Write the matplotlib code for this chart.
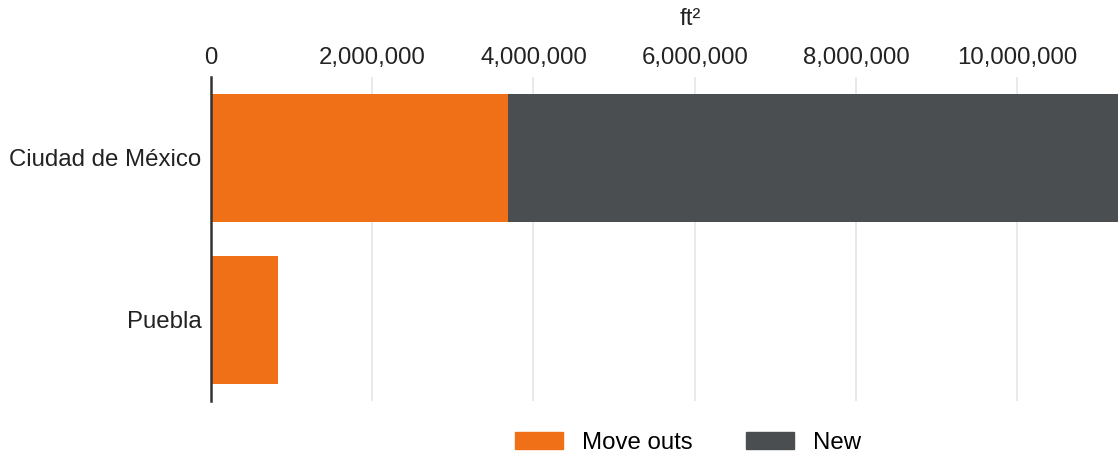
import matplotlib.pyplot as plt
from matplotlib.patches import Patch
from matplotlib.ticker import FuncFormatter

plt.rcParams['font.family'] = ['Liberation Sans', 'DejaVu Sans']

# data (ft²)
cities = ['Ciudad de México', 'Puebla']
move_outs = [3680000, 830000]
new = [7570000, 0]
x_ticks = [0, 2000000, 4000000, 6000000, 8000000, 10000000]

orange = '#f07018'
grey = '#4b4e51'
fs = 17.3

fig = plt.figure(figsize=(11.18, 4.55), dpi=100)
ax = fig.add_axes([211 / 1118, 54 / 455, 907 / 1118, 324 / 455])

pos = list(range(len(cities)))
ax.barh(pos, move_outs, height=0.79, color=orange, zorder=2)
ax.barh(pos, new, left=move_outs, height=0.79, color=grey, zorder=2)

ax.set_xlim(0, 11250000)
ax.set_ylim(1.5, -0.5)
ax.set_yticks(pos)
ax.set_yticklabels(cities)
ax.set_xticks(x_ticks)
ax.xaxis.set_major_formatter(FuncFormatter(lambda v, p: f'{int(v):,}'))
ax.xaxis.tick_top()
ax.tick_params(axis='x', length=0, pad=6, labelsize=fs, colors='#222222')
ax.tick_params(axis='y', length=0, pad=7, labelsize=fs, colors='#222222')
ax.grid(axis='x', color='#e4e4ec', linewidth=1.2, zorder=0)

for s in ['top', 'right', 'bottom']:
    ax.spines[s].set_visible(False)
ax.spines['left'].set_color('#333333')
ax.spines['left'].set_linewidth(1.8)
ax.spines['left'].set_zorder(3)

fig.text(690 / 1118, 1 - 19 / 455, 'ft²', ha='center', va='center',
         fontsize=fs, color='#222222')

handles = [Patch(color=orange, label='Move outs'), Patch(color=grey, label='New')]
fig.legend(handles=handles, loc='center', bbox_to_anchor=(688 / 1118, 1 - 443 / 455),
           ncol=2, frameon=False, fontsize=fs, handlelength=2.0, handleheight=0.72,
           handletextpad=0.8, columnspacing=2.2)

fig.savefig('out.png', dpi=100)
